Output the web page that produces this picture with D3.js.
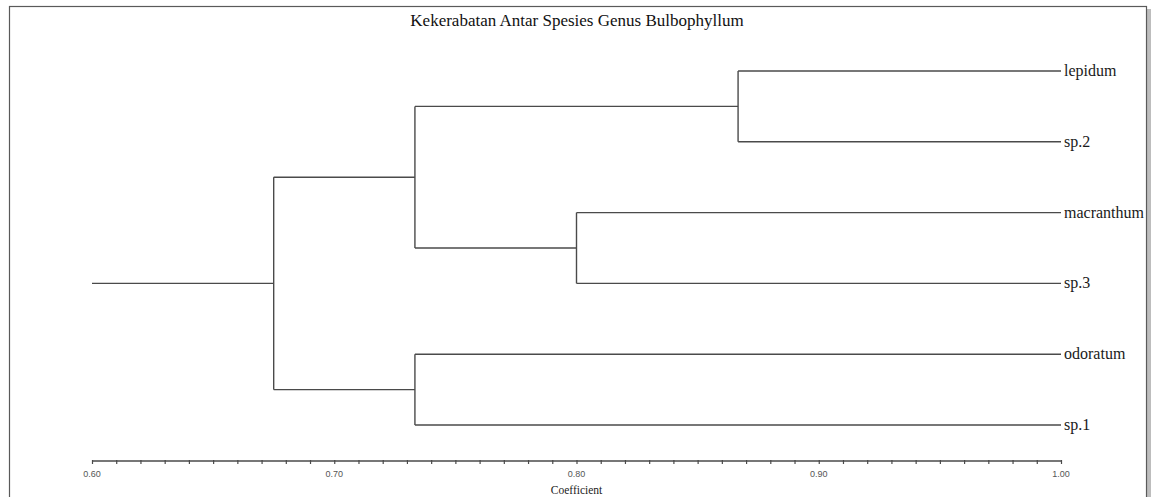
<!DOCTYPE html>
<html>
<head>
<meta charset="utf-8">
<script src="https://cdn.jsdelivr.net/npm/d3@7"></script>
<style>
  html, body { margin: 0; padding: 0; background: #fff; }
  svg { display: block; }
</style>
</head>
<body>
<svg id="chart" width="1154" height="497"></svg>
<script>
// ---- Data ----
const title = "Kekerabatan Antar Spesies Genus Bulbophyllum";
const axisTitle = "Coefficient";
const leaves = ["lepidum", "sp.2", "macranthum", "sp.3", "odoratum", "sp.1"];
// clusters: name, left child, right child, coefficient
const clusterNames = ["c1", "c2", "c3", "c4", "root"];
const clusterLeft  = ["lepidum", "macranthum", "odoratum", "c1", "c4"];
const clusterRight = ["sp.2", "sp.3", "sp.1", "c2", "c3"];
const clusterCoef  = [0.8667, 0.80, 0.7333, 0.7333, 0.675];
const axisDomain = [0.60, 1.00];
const majorTicks = [0.60, 0.70, 0.80, 0.90, 1.00];

const SERIF = '"Liberation Serif"';
const SANS = '"Liberation Sans"';

// ---- Layout ----
const svg = d3.select("#chart");

// frame with shadow
svg.append("rect").attr("x", 12).attr("y", 9).attr("width", 1139).attr("height", 495)
  .attr("fill", "#bdbdbd");
svg.append("rect").attr("x", 9.5).attr("y", 6.5).attr("width", 1137).attr("height", 495)
  .attr("fill", "#fff").attr("stroke", "#5a5a5a").attr("stroke-width", 1.2);

const x = d3.scaleLinear().domain(axisDomain).range([92, 1061]);
const y = d3.scalePoint().domain(leaves).range([71, 425]);

// Build tree
const nodes = {};
leaves.forEach(l => nodes[l] = { name: l, coef: axisDomain[1] });
clusterNames.forEach((n, i) => {
  nodes[n] = { name: n, coef: clusterCoef[i], children: [nodes[clusterLeft[i]], nodes[clusterRight[i]]] };
});
const root = d3.hierarchy(nodes["root"]);
root.eachAfter(d => {
  if (!d.children) d.yy = y(d.data.name);
  else d.yy = d3.mean(d.children, c => c.yy);
});

const lineColor = "#4a4a4a";
const g = svg.append("g").attr("fill", "none").attr("stroke", lineColor).attr("stroke-width", 1.4);

// root stem
g.append("line")
  .attr("x1", x(axisDomain[0])).attr("x2", x(root.data.coef))
  .attr("y1", root.yy).attr("y2", root.yy);

root.each(d => {
  if (d.children) {
    const ys = d.children.map(c => c.yy);
    g.append("line")
      .attr("x1", x(d.data.coef)).attr("x2", x(d.data.coef))
      .attr("y1", d3.min(ys)).attr("y2", d3.max(ys));
    d.children.forEach(c => {
      g.append("line")
        .attr("x1", x(d.data.coef)).attr("x2", x(c.data.coef))
        .attr("y1", c.yy).attr("y2", c.yy);
    });
  }
});

// leaf labels
svg.append("g").selectAll("text").data(leaves).join("text")
  .attr("x", x(axisDomain[1]) + 3)
  .attr("y", d => y(d) + 5)
  .style("font-family", SERIF)
  .style("font-size", "16px")
  .attr("fill", "#1a1a1a")
  .text(d => d);

// title
svg.append("text")
  .attr("x", 577).attr("y", 26)
  .attr("text-anchor", "middle")
  .style("font-family", SERIF)
  .style("font-size", "17px")
  .attr("fill", "#111")
  .text(title);

// axis
const axisY = 461;
const minorTicks = d3.range(0, 41).map(i => axisDomain[0] + i * 0.01);
const axis = d3.axisBottom(x).tickValues(minorTicks).tickSize(4).tickFormat("");
const ag = svg.append("g").attr("transform", `translate(0,${axisY})`).call(axis);
ag.select(".domain").attr("stroke", lineColor).attr("stroke-width", 1.4)
  .attr("d", `M${x(axisDomain[0])},0H${x(axisDomain[1])}`);
ag.selectAll(".tick line").attr("stroke", lineColor).attr("stroke-width", 1.2).attr("y1", -1).attr("y2", 3);

svg.append("g").selectAll("text").data(majorTicks).join("text")
  .attr("x", d => x(d)).attr("y", 477)
  .attr("text-anchor", "middle")
  .style("font-family", SANS)
  .style("font-size", "9px")
  .attr("fill", "#555")
  .text(d => d3.format(".2f")(d));

svg.append("text")
  .attr("x", x(0.80)).attr("y", 494)
  .attr("text-anchor", "middle")
  .style("font-family", SERIF)
  .style("font-size", "11.5px")
  .attr("fill", "#222")
  .text(axisTitle);
</script>
</body>
</html>
